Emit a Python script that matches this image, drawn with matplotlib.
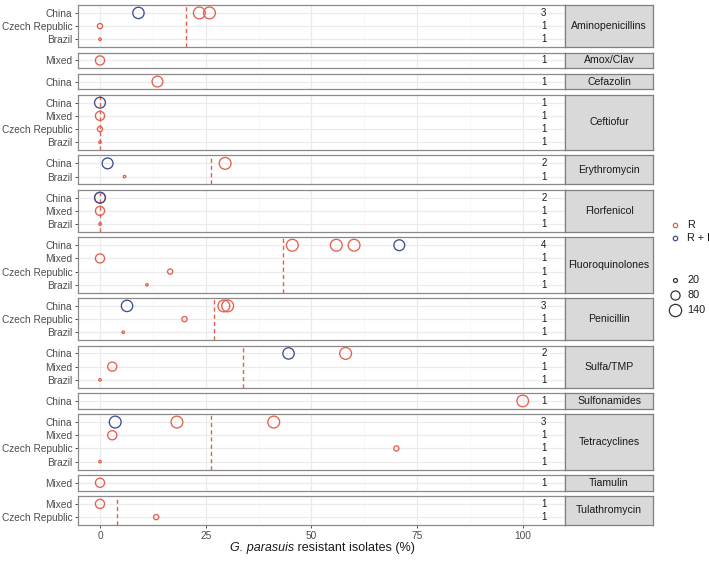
import matplotlib
matplotlib.use("Agg")
import matplotlib.pyplot as plt
from matplotlib.lines import Line2D
import numpy as np

plt.rcParams['font.family'] = ['Liberation Sans', 'DejaVu Sans']

# ---------------- data ----------------
drugs = ["Aminopenicillins", "Amox/Clav", "Cefazolin", "Ceftiofur", "Erythromycin",
         "Florfenicol", "Fluoroquinolones", "Penicillin", "Sulfa/TMP", "Sulfonamides",
         "Tetracyclines", "Tiamulin", "Tulathromycin"]

drug_countries = [
    ["China", "Czech Republic", "Brazil"],
    ["Mixed"],
    ["China"],
    ["China", "Mixed", "Czech Republic", "Brazil"],
    ["China", "Brazil"],
    ["China", "Mixed", "Brazil"],
    ["China", "Mixed", "Czech Republic", "Brazil"],
    ["China", "Czech Republic", "Brazil"],
    ["China", "Mixed", "Brazil"],
    ["China"],
    ["China", "Mixed", "Czech Republic", "Brazil"],
    ["Mixed"],
    ["Mixed", "Czech Republic"],
]

study_counts = [
    [3, 1, 1], [1], [1], [1, 1, 1, 1], [2, 1], [2, 1, 1], [4, 1, 1, 1],
    [3, 1, 1], [2, 1, 1], [1], [3, 1, 1, 1], [1], [1, 1],
]

pooled = [20.3, None, None, 0.0, 26.2, 0.0, 43.3, 27.0, 33.8, None, 26.3, None, 4.1]

pt_drug = (["Aminopenicillins"] * 5 + ["Amox/Clav"] + ["Cefazolin"] + ["Ceftiofur"] * 4 +
           ["Erythromycin"] * 3 + ["Florfenicol"] * 4 + ["Fluoroquinolones"] * 7 +
           ["Penicillin"] * 5 + ["Sulfa/TMP"] * 4 + ["Sulfonamides"] +
           ["Tetracyclines"] * 6 + ["Tiamulin"] + ["Tulathromycin"] * 2)
pt_country = (["China", "China", "China", "Czech Republic", "Brazil"] +
              ["Mixed"] + ["China"] +
              ["China", "Mixed", "Czech Republic", "Brazil"] +
              ["China", "China", "Brazil"] +
              ["China", "China", "Mixed", "Brazil"] +
              ["China", "China", "China", "China", "Mixed", "Czech Republic", "Brazil"] +
              ["China", "China", "China", "Czech Republic", "Brazil"] +
              ["China", "China", "Mixed", "Brazil"] +
              ["China"] +
              ["China", "China", "China", "Mixed", "Czech Republic", "Brazil"] +
              ["Mixed"] +
              ["Mixed", "Czech Republic"])
pt_type = (["R + I", "R", "R", "R", "R"] +
           ["R"] + ["R"] +
           ["R + I", "R", "R", "R"] +
           ["R + I", "R", "R"] +
           ["R + I", "R", "R", "R"] +
           ["R", "R", "R", "R + I", "R", "R", "R"] +
           ["R + I", "R", "R", "R", "R"] +
           ["R + I", "R", "R", "R"] +
           ["R"] +
           ["R + I", "R", "R", "R", "R", "R"] +
           ["R"] +
           ["R", "R"])
pt_value = ([9.1, 23.5, 25.9, 0.0, 0.0] +
            [0.0] + [13.6] +
            [0.0, 0.0, 0.0, 0.0] +
            [1.8, 29.6, 5.8] +
            [0.0, 0.0, 0.0, 0.0] +
            [45.5, 55.9, 60.1, 70.8, 0.0, 16.6, 11.1] +
            [6.4, 29.3, 30.2, 20.0, 5.5] +
            [44.6, 58.1, 2.9, 0.0] +
            [100.0] +
            [3.6, 18.2, 41.1, 2.9, 70.1, 0.0] +
            [0.0] +
            [0.0, 13.3])
pt_n = ([120, 130, 130, 30, 8] +
        [80] + [110] +
        [110, 80, 30, 8] +
        [110, 130, 8] +
        [110, 110, 80, 8] +
        [130, 130, 130, 110, 80, 30, 8] +
        [120, 130, 130, 30, 8] +
        [120, 130, 80, 8] +
        [125] +
        [130, 130, 130, 80, 30, 8] +
        [80] +
        [80, 30])

size_legend = [20, 80, 140]
type_order = ["R", "R + I"]
type_colors = {"R": "#E4604E", "R + I": "#3E4F92"}

x_ticks = [0, 25, 50, 75, 100]
x_minor = [12.5, 37.5, 62.5, 87.5]
x_label_italic = "G. parasuis"
x_label_rest = " resistant isolates (%)"


def marker_area(n):
    d_px = np.sqrt(np.maximum(1.125 * np.asarray(n, float) - 6.5, 6.0))
    return (d_px * 0.72) ** 2


# ---------------- layout ----------------
W, H = 709, 562
fig = plt.figure(figsize=(W / 100, H / 100), dpi=100)
heights = [len(c) + 0.2 for c in drug_countries]
gap_px = 5.3
total_px = 520
avg_h = (total_px - gap_px * (len(drugs) - 1)) / len(drugs)
gs = fig.add_gridspec(len(drugs), 2, height_ratios=heights, width_ratios=[487, 88],
                      left=78 / W, right=653 / W, top=1 - 5 / H, bottom=1 - 525 / H,
                      hspace=gap_px / avg_h, wspace=0)

border_col = "#8a8a8a"
grid_major = "#ebebeb"
grid_minor = "#f4f4f4"
tick_col = "#4d4d4d"

pt_drug_a = np.array(pt_drug)
pt_country_a = np.array(pt_country)
pt_type_a = np.array(pt_type)
pt_value_a = np.array(pt_value)
pt_n_a = np.array(pt_n)

for i, drug in enumerate(drugs):
    ax = fig.add_subplot(gs[i, 0])
    countries = drug_countries[i]
    k = len(countries)
    ypos = {c: k - 1 - j for j, c in enumerate(countries)}
    ax.set_xlim(-5.2, 110)
    ax.set_ylim(-0.6, k - 1 + 0.6)
    ax.set_xticks(x_ticks)
    ax.set_xticks(x_minor, minor=True)
    ax.set_yticks([ypos[c] for c in countries])
    ax.set_yticklabels(countries)
    ax.grid(True, which='major', color=grid_major, lw=0.9, zorder=0)
    ax.grid(True, which='minor', axis='x', color=grid_minor, lw=0.5, zorder=0)
    ax.set_axisbelow(True)
    for s in ax.spines.values():
        s.set_color(border_col)
        s.set_linewidth(0.9)
    ax.tick_params(axis='y', length=2.5, width=0.6, color="#333333",
                   labelsize=7.3, labelcolor=tick_col, pad=1.5)
    ax.tick_params(axis='x', which='minor', length=0)
    if i == len(drugs) - 1:
        ax.tick_params(axis='x', length=2.5, width=0.6, color="#333333",
                       labelsize=7.3, labelcolor=tick_col, pad=2)
    else:
        ax.tick_params(axis='x', length=0, labelbottom=False)

    if pooled[i] is not None:
        ax.axvline(pooled[i], color="#E4604E", lw=1.0, ls=(0, (3, 2.2)), zorder=2)

    for t in type_order:
        m = (pt_drug_a == drug) & (pt_type_a == t)
        if m.any():
            ys = [ypos[c] for c in pt_country_a[m]]
            ax.scatter(pt_value_a[m], ys, s=marker_area(pt_n_a[m]),
                       facecolors='none', edgecolors=type_colors[t],
                       linewidths=0.95, zorder=3, clip_on=False)

    for j, c in enumerate(countries):
        ax.text(105, ypos[c], str(study_counts[i][j]), ha='center', va='center',
                fontsize=7.0, color="#1a1a1a", zorder=4)

    sax = fig.add_subplot(gs[i, 1])
    sax.set_facecolor("#d9d9d9")
    sax.set_xticks([])
    sax.set_yticks([])
    for s in sax.spines.values():
        s.set_color("#7f7f7f")
        s.set_linewidth(0.9)
    sax.text(0.5, 0.5, drug, transform=sax.transAxes, ha='center', va='center',
             fontsize=7.6, color="#1a1a1a")

# x label with italic part
xl_y = 1 - 548 / H
t1 = fig.text(0.5, xl_y, x_label_italic, style='italic', fontsize=9,
              color="#1a1a1a", ha='right', va='center')
fig.canvas.draw()
r = fig.canvas.get_renderer()
w1 = t1.get_window_extent(r).width / W
t2 = fig.text(0.5, xl_y, x_label_rest, fontsize=9, color="#1a1a1a",
              ha='left', va='center')
w2 = t2.get_window_extent(r).width / W
center = 322 / W
t1.set_x(center - (w1 + w2) / 2 + w1)
t2.set_x(center - (w1 + w2) / 2 + w1)

# legends
lx = 675 / W
tx = 687 / W
for t, ypx in zip(type_order, [225, 238]):
    fig.add_artist(Line2D([lx], [1 - ypx / H], marker='o', ms=3.2, mfc='none',
                          mec=type_colors[t], mew=0.9, ls='none',
                          transform=fig.transFigure))
    fig.text(tx, 1 - ypx / H, t, fontsize=7.8, va='center', ha='left', color="#1a1a1a")
for n, ypx in zip(size_legend, [280, 295, 310]):
    fig.add_artist(Line2D([lx], [1 - ypx / H], marker='o',
                          ms=np.sqrt(marker_area(n)), mfc='none', mec="#333333",
                          mew=0.9, ls='none', transform=fig.transFigure))
    fig.text(tx, 1 - ypx / H, str(n), fontsize=7.8, va='center', ha='left', color="#1a1a1a")

fig.savefig("out.png", dpi=100)
